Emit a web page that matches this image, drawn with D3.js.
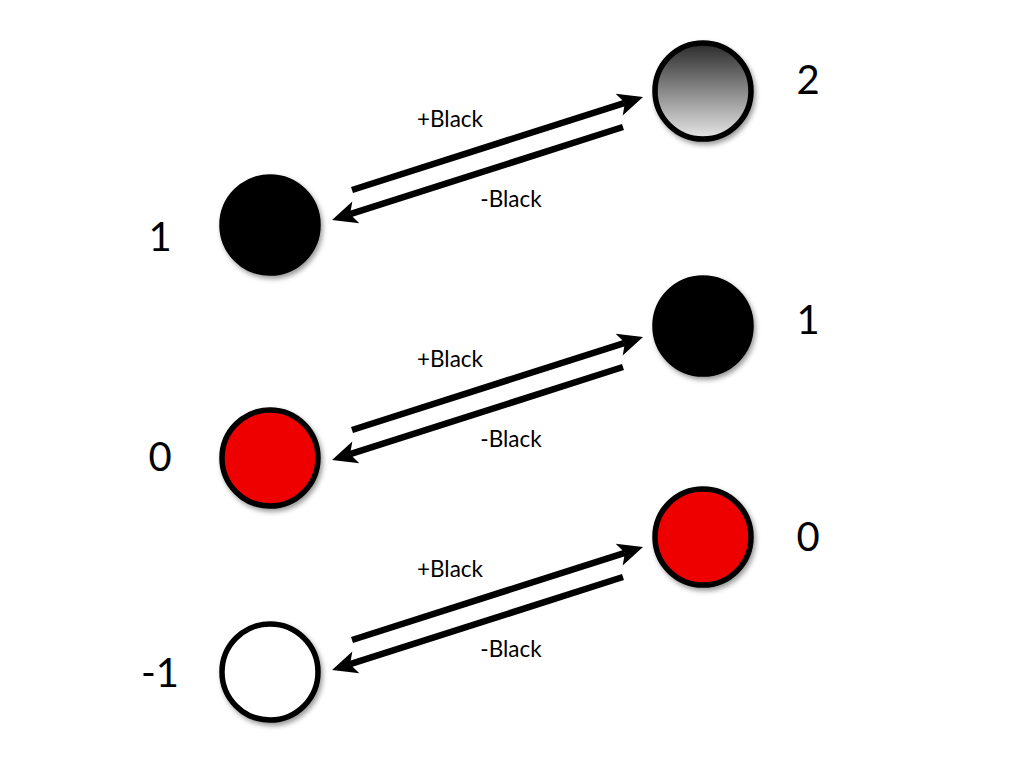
<!DOCTYPE html>
<html><head><meta charset="utf-8">
<script src="https://cdn.jsdelivr.net/npm/d3@7"></script>
<style>html,body{margin:0;padding:0;background:#fff;}svg{display:block;}</style>
</head><body>
<script>
const rows = [0, 1, 2];
const leftLabels = ["1", "0", "-1"];
const rightLabels = ["2", "1", "0"];
const leftFills = ["black", "red", "white"];
const rightFills = ["gradient", "black", "red"];
const plusText = "+Black";
const minusText = "-Black";

const W = 1024, H = 768;
const svg = d3.select("body").append("svg").attr("width", W).attr("height", H);
const defs = svg.append("defs");
const grad = defs.append("linearGradient").attr("id", "g").attr("x1", 0).attr("y1", 0).attr("x2", 0).attr("y2", 1);
grad.append("stop").attr("offset", "0%").attr("stop-color", "#2a2a2a");
grad.append("stop").attr("offset", "100%").attr("stop-color", "#e8e8e8");
const f = defs.append("filter").attr("id", "sh").attr("x", "-30%").attr("y", "-30%").attr("width", "160%").attr("height", "160%");
f.append("feDropShadow").attr("dx", 2).attr("dy", 3).attr("stdDeviation", 2.5).attr("flood-color", "#000").attr("flood-opacity", 0.4);

const colorMap = {black: "#000", red: "#ee0000", white: "#fff", gradient: "url(#g)"};
const x = d3.scaleOrdinal().domain(["label", "left", "right", "rlabel"]).range([160, 270, 703, 808]);
const xA = d3.scaleOrdinal().domain(["start", "end", "plus", "minus"]).range([352, 643, 450, 511]);
const yL = d3.scaleLinear().domain([0, 1, 2]).range([225, 458, 672]);
const yR = d3.scaleLinear().domain([0, 1, 2]).range([91, 326, 537]);
const yA = d3.scaleLinear().domain([0, 1, 2]).range([190, 430, 640]);
const yLL = d3.scaleLinear().domain([0, 1, 2]).range([236, 456, 672]);
const yRL = d3.scaleLinear().domain([0, 1, 2]).range([79, 319, 536]);

const font = "'Lato','Open Sans',sans-serif";

function arrow(g, x1, y1, x2, y2) {
  const ang = Math.atan2(y2 - y1, x2 - x1);
  const headLen = 25;
  const ex = x2 - Math.cos(ang) * (headLen - 6), ey = y2 - Math.sin(ang) * (headLen - 6);
  g.append("line").attr("x1", x1).attr("y1", y1).attr("x2", ex).attr("y2", ey)
    .attr("stroke", "#000").attr("stroke-width", 6.5);
  g.append("path")
    .attr("d", `M0,0 L${-headLen},${-11.5} L${-headLen + 6},0 L${-headLen},${11.5} Z`)
    .attr("transform", `translate(${x2},${y2}) rotate(${ang * 180 / Math.PI})`)
    .attr("fill", "#000");
}

rows.forEach(i => {
  const lx = x("left"), ly = yL(i), rx = x("right"), ry = yR(i);
  const a = yA(i);
  const g = svg.append("g");
  arrow(g, xA("start"), a, xA("end"), a - 93);
  arrow(g, xA("end") - 20, a - 63, xA("start") - 20, a + 30);
  g.append("text").attr("x", xA("plus")).attr("y", a - 63).attr("text-anchor", "middle")
    .attr("font-family", font).attr("font-size", 22.5).text(plusText);
  g.append("text").attr("x", xA("minus")).attr("y", a + 17).attr("text-anchor", "middle")
    .attr("font-family", font).attr("font-size", 22.5).text(minusText);

  g.append("circle").attr("cx", lx).attr("cy", ly).attr("r", 48)
    .attr("fill", colorMap[leftFills[i]]).attr("stroke", "#000").attr("stroke-width", 5.5).attr("filter", "url(#sh)");
  g.append("circle").attr("cx", rx).attr("cy", ry).attr("r", 48)
    .attr("fill", colorMap[rightFills[i]]).attr("stroke", "#000").attr("stroke-width", 5.5).attr("filter", "url(#sh)");

  g.append("text").attr("x", x("label")).attr("y", yLL(i) + 14.5).attr("text-anchor", "middle")
    .attr("font-family", font).attr("font-size", 40).text(leftLabels[i]);
  g.append("text").attr("x", x("rlabel")).attr("y", yRL(i) + 14.5).attr("text-anchor", "middle")
    .attr("font-family", font).attr("font-size", 40).text(rightLabels[i]);
});
</script>
</body></html>
